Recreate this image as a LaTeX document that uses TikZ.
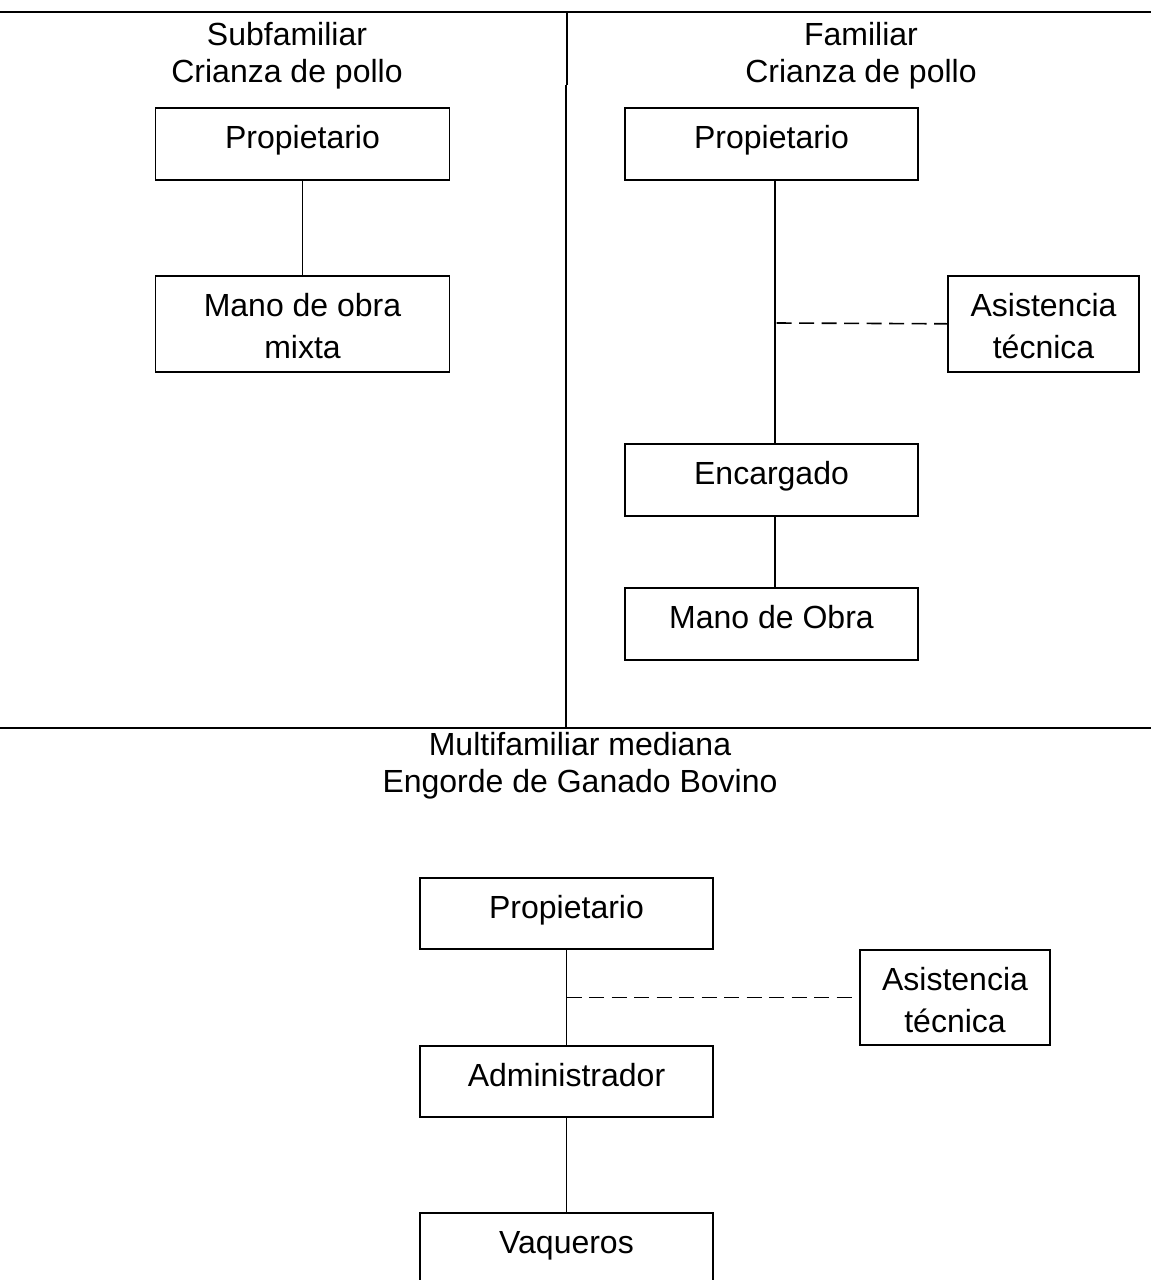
\documentclass[tikz,border=0pt]{standalone}
\usepackage{fontspec}
\setmainfont{Liberation Sans}
\begin{document}
\begin{tikzpicture}[x=1pt,y=-1pt,
  rule/.style={line width=1.8pt},
  conn/.style={line width=1.6pt},
  dconn/.style={line width=1.6pt,dash pattern=on 15pt off 7.5pt},
  orgbox/.style={draw,line width=1.6pt,anchor=north,inner xsep=0pt,inner ysep=0pt,
    text height=41pt,font=\fontsize{32}{42}\selectfont},
  title/.style={anchor=base,inner sep=0pt,font=\fontsize{32}{37}\selectfont}]
\path[use as bounding box] (0,0) rectangle (1151,1280);
% frame lines
\coordinate (tl) at (0,12);
\coordinate (tr) at (1151,12);
\coordinate (ml) at (0,728);
\coordinate (mr) at (1151,728);
\coordinate (va) at (567.3,12);
\coordinate (vb) at (567.3,85);
\coordinate (vc) at (565.7,85);
\coordinate (vd) at (565.7,727);
\draw[rule] (tl) -- (tr);
\draw[rule] (ml) -- (mr);
\draw[rule] (va) -- (vb);
\draw[rule] (vc) -- (vd);
% titles
\node[title] (t1) at (287,45) {\parbox[t]{420pt}{\centering Subfamiliar\\Crianza de pollo}};
\node[title] (t2) at (861,45) {\parbox[t]{420pt}{\centering Familiar\\Crianza de pollo}};
\node[title] (t3) at (580,755) {\parbox[t]{600pt}{\centering Multifamiliar mediana\\Engorde de Ganado Bovino}};
% left column
\node[orgbox,minimum width=294pt,text depth=31pt] (L1) at (302.5,107) {\parbox[t]{280pt}{\centering Propietario}};
\node[orgbox,minimum width=294pt,text depth=55pt] (L2) at (302.5,275) {\parbox[t]{280pt}{\centering Mano de obra\\mixta}};
\draw[conn] (L1) -- (L2);
% right column
\node[orgbox,minimum width=293pt,text depth=31pt] (R1) at (771.5,107) {\parbox[t]{280pt}{\centering Propietario}};
\node[orgbox,minimum width=191pt,text depth=55pt] (R2) at (1043.5,275) {\parbox[t]{180pt}{\centering Asistencia\\técnica}};
\node[orgbox,minimum width=293pt,text depth=31pt] (R3) at (771.5,443) {\parbox[t]{280pt}{\centering Encargado}};
\node[orgbox,minimum width=293pt,text depth=31pt] (R4) at (771.5,587) {\parbox[t]{280pt}{\centering Mano de Obra}};
\draw[conn] ([xshift=3.5pt]R1.south) -- ([xshift=3.5pt]R3.north);
\draw[conn] ([xshift=3.5pt]R3.south) -- ([xshift=3.5pt]R4.north);
\coordinate (rj) at (776.5,323);
\draw[dconn] (rj) -- (R2.west);
% bottom column
\node[orgbox,minimum width=293pt,text depth=30pt] (B1) at (566.5,877) {\parbox[t]{280pt}{\centering Propietario}};
\node[orgbox,minimum width=190pt,text depth=54pt] (B2) at (955,949) {\parbox[t]{180pt}{\centering Asistencia\\técnica}};
\node[orgbox,minimum width=293pt,text depth=30pt] (B3) at (566.5,1045) {\parbox[t]{280pt}{\centering Administrador}};
\node[orgbox,minimum width=293pt,text depth=30pt] (B4) at (566.5,1212) {\parbox[t]{280pt}{\centering Vaqueros}};
\draw[conn] (B1) -- (B3);
\draw[conn] (B3) -- (B4);
\draw[dconn] (B2.west -| B1.south) -- (B2.west);
\end{tikzpicture}
\end{document}
